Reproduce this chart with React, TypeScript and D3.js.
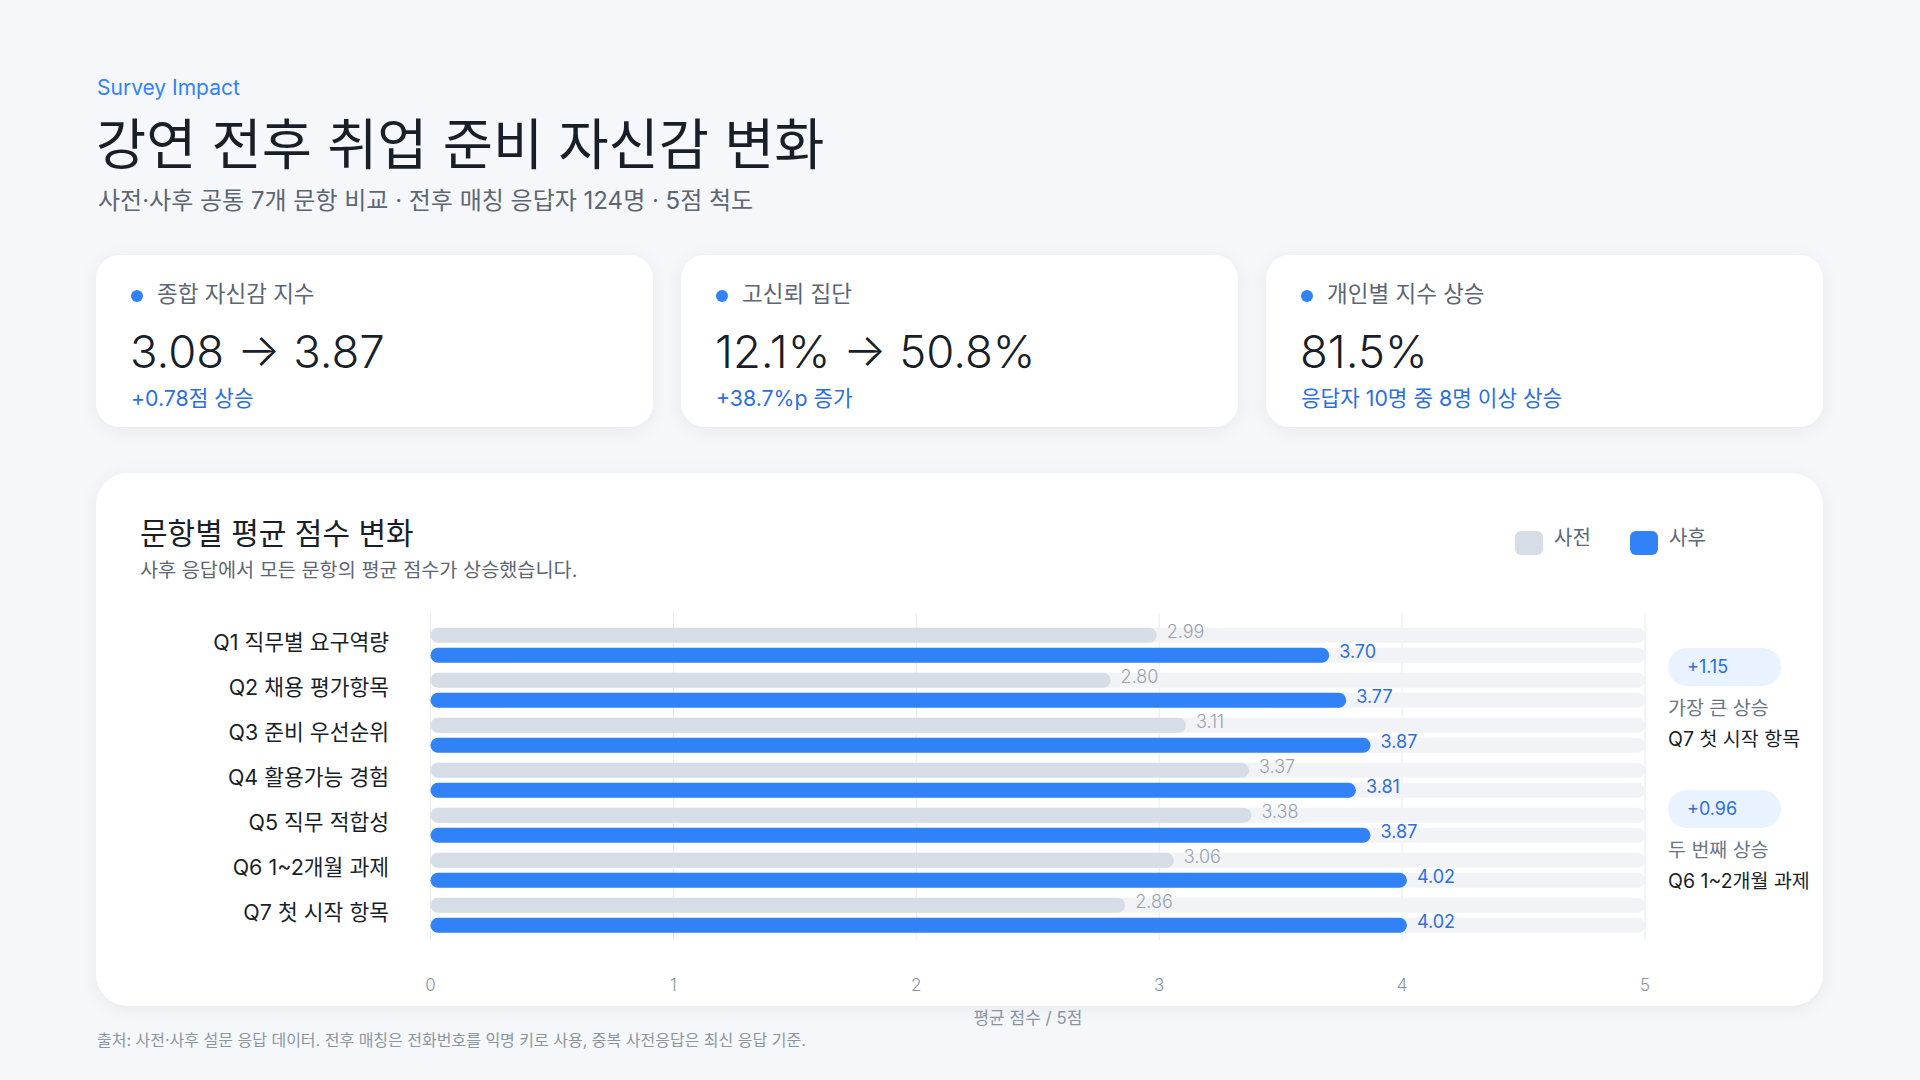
import React from "react";
import * as d3 from "d3";

const categories = [
  "Q1 직무별 요구역량",
  "Q2 채용 평가항목",
  "Q3 준비 우선순위",
  "Q4 활용가능 경험",
  "Q5 직무 적합성",
  "Q6 1~2개월 과제",
  "Q7 첫 시작 항목",
];
const preValues = [2.99, 2.8, 3.11, 3.37, 3.38, 3.06, 2.86];
const postValues = [3.7, 3.77, 3.87, 3.81, 3.87, 4.02, 4.02];
const xTicks = [0, 1, 2, 3, 4, 5];
const seriesNames = ["사전", "사후"];

const kpiLabels = ["종합 자신감 지수", "고신뢰 집단", "개인별 지수 상승"];
const kpiValues = ["3.08 → 3.87", "12.1% → 50.8%", "81.5%"];
const kpiNotes = ["+0.78점 상승", "+38.7%p 증가", "응답자 10명 중 8명 이상 상승"];

const calloutDeltas = ["+1.15", "+0.96"];
const calloutTitles = ["가장 큰 상승", "두 번째 상승"];
const calloutItems = ["Q7 첫 시작 항목", "Q6 1~2개월 과제"];

const FONT = "Inter, 'Noto Sans CJK KR', sans-serif";
const BLUE = "#3182f6";
const BLUE_TEXT = "#2b6fe0";
const PRE = "#d6dde6";
const TRACK = "#f2f3f6";
const DARK = "#191f28";
const GRAY = "#5d6673";
const LIGHT = "#8b95a1";

export default function App() {
  const x = d3.scaleLinear().domain([0, 5]).range([430.5, 1645]);
  const y = d3.scaleBand<string>().domain(categories).range([622.8, 937.8]).padding(0);
  const barH = 15;
  const gap = 5;

  const cardW = 557;
  const cardStep = 585;

  return (
    <div style={{ position: "absolute", left: 0, top: 0, width: 1920, height: 1080 }}>
      <svg width={1920} height={1080} style={{ display: "block", fontFamily: FONT }}>
        <defs>
          <filter id="shadow" x="-10%" y="-20%" width="120%" height="140%">
            <feDropShadow dx="0" dy="3" stdDeviation="8" floodColor="#1b2a4a" floodOpacity="0.06" />
          </filter>
        </defs>
        <rect x={0} y={0} width={1920} height={1080} fill="#f5f7fa" />

        <text x={97} y={95} fontSize={21} fill={BLUE}>Survey Impact</text>
        <text x={96} y={164} fontSize={54.5} fontWeight={400} fill={DARK}>강연 전후 취업 준비 자신감 변화</text>
        <text x={98} y={209} fontSize={24} fill={GRAY}>사전·사후 공통 7개 문항 비교 · 전후 매칭 응답자 124명 · 5점 척도</text>

        {kpiLabels.map((lab, i) => {
          const cx = 96 + i * cardStep;
          return (
            <g key={lab}>
              <rect x={cx} y={255} width={cardW} height={172} rx={24} fill="#ffffff" filter="url(#shadow)" />
              <circle cx={cx + 41} cy={296} r={6} fill={BLUE} />
              <text x={cx + 61} y={302} fontSize={22.5} fill={GRAY}>{lab}</text>
              <text x={cx + 34} y={368} fontSize={45.5} fontWeight={300} fill={DARK}>{kpiValues[i]}</text>
              <text x={cx + 35} y={406} fontSize={21.3} fill={BLUE_TEXT}>{kpiNotes[i]}</text>
            </g>
          );
        })}

        <rect x={96} y={473} width={1727} height={533} rx={32} fill="#ffffff" filter="url(#shadow)" />
        <text x={140} y={544} fontSize={30} fontWeight={400} fill={DARK}>문항별 평균 점수 변화</text>
        <text x={140} y={577} fontSize={19.7} fill={GRAY}>사후 응답에서 모든 문항의 평균 점수가 상승했습니다.</text>

        {seriesNames.map((s, i) => (
          <g key={s}>
            <rect x={1515 + i * 115} y={531} width={28} height={24} rx={6} fill={i === 0 ? PRE : BLUE} />
            <text x={1554 + i * 115} y={545} fontSize={20} fill={GRAY}>{s}</text>
          </g>
        ))}

        {xTicks.map((t) => (
          <g key={t}>
            <line x1={x(t)} x2={x(t)} y1={613} y2={940} stroke="#e8eaee" strokeWidth={1} />
            <text x={x(t)} y={991} fontSize={17} fontWeight={300} fill={LIGHT} textAnchor="middle">{t}</text>
          </g>
        ))}

        {categories.map((c, i) => {
          const cy = (y(c) as number) + y.bandwidth() / 2;
          const preY = cy - gap / 2 - barH;
          const postY = cy + gap / 2;
          return (
            <g key={c}>
              <text x={389} y={cy - 3} fontSize={21.5} fill={DARK} textAnchor="end" dominantBaseline="central">{c}</text>
              <rect x={x(0)} y={preY} width={x(5) - x(0)} height={barH} rx={barH / 2} fill={TRACK} />
              <rect x={x(0)} y={postY} width={x(5) - x(0)} height={barH} rx={barH / 2} fill={TRACK} />
              <rect x={x(0)} y={preY} width={x(preValues[i]) - x(0)} height={barH} rx={barH / 2} fill={PRE} />
              <rect x={x(0)} y={postY} width={x(postValues[i]) - x(0)} height={barH} rx={barH / 2} fill={BLUE} />
              <text x={x(preValues[i]) + 10} y={preY + barH / 2 - 3.5} fontSize={18} fontWeight={300} fill="#9aa2ad" dominantBaseline="central">{preValues[i].toFixed(2)}</text>
              <text x={x(postValues[i]) + 10} y={postY + barH / 2 - 3.5} fontSize={18} fill={BLUE_TEXT} dominantBaseline="central">{postValues[i].toFixed(2)}</text>
            </g>
          );
        })}

        {calloutDeltas.map((d, i) => {
          const top = 648 + i * 142;
          return (
            <g key={d}>
              <rect x={1668} y={top} width={113} height={38} rx={19} fill="#e8f3ff" />
              <text x={1687} y={top + 25} fontSize={18} fill={BLUE_TEXT}>{d}</text>
              <text x={1668} y={top + 67} fontSize={19.5} fill="#6b7684">{calloutTitles[i]}</text>
              <text x={1668} y={top + 98} fontSize={19.5} fill={DARK}>{calloutItems[i]}</text>
            </g>
          );
        })}

        <text x={1028} y={1024} fontSize={17} fill={LIGHT} textAnchor="middle">평균 점수 / 5점</text>
        <text x={97} y={1046} fontSize={16} fill={LIGHT}>출처: 사전·사후 설문 응답 데이터. 전후 매칭은 전화번호를 익명 키로 사용, 중복 사전응답은 최신 응답 기준.</text>
      </svg>
    </div>
  );
}
